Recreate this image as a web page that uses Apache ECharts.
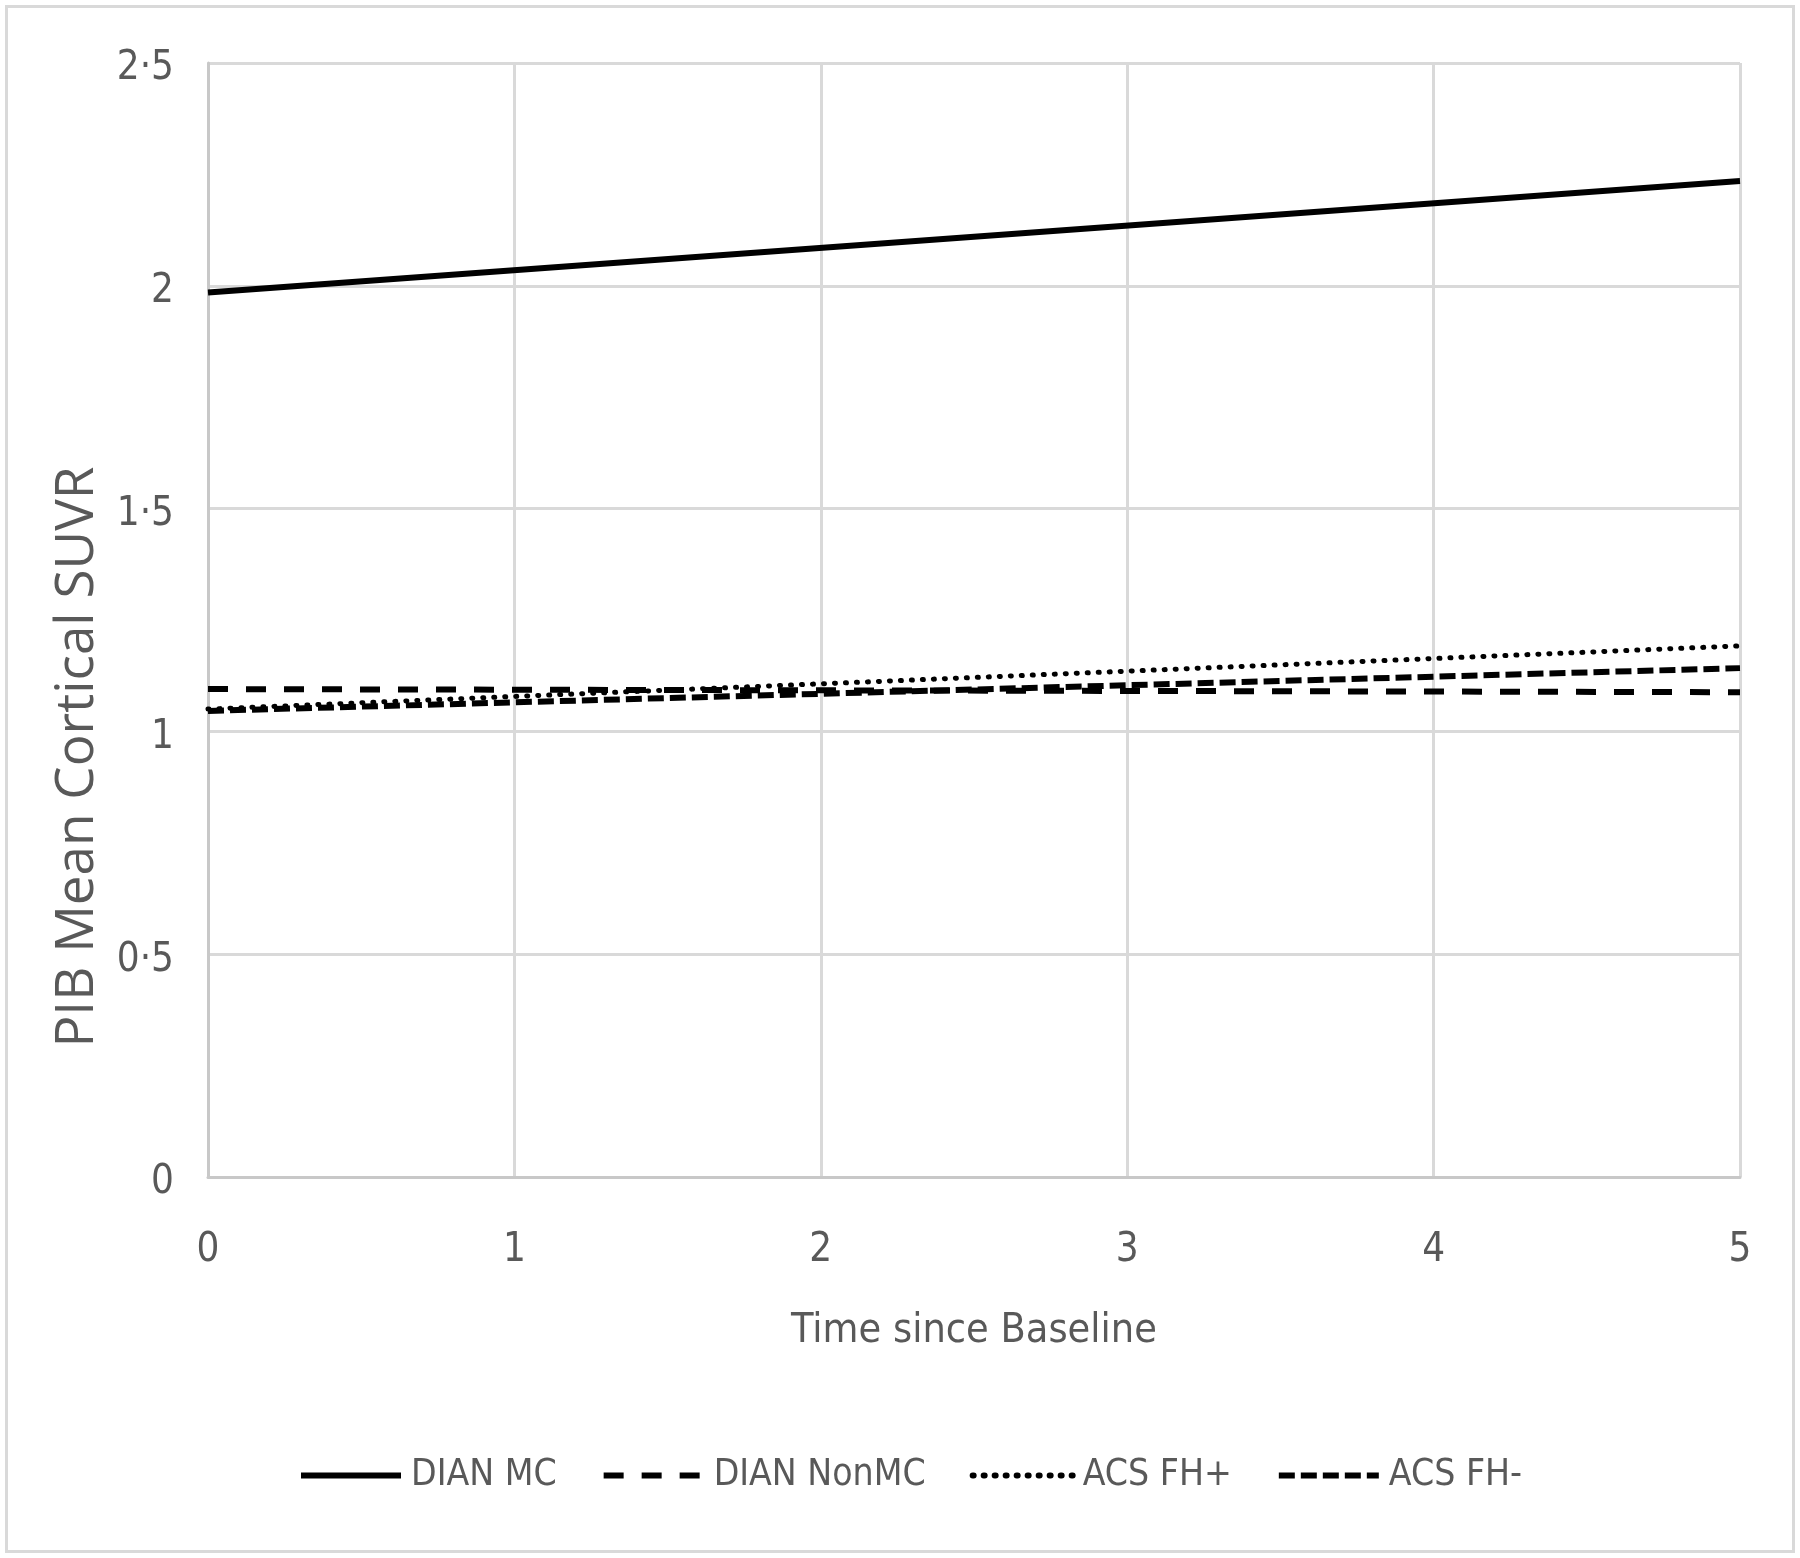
<!DOCTYPE html>
<html>
<head>
<meta charset="utf-8">
<style>
html,body{margin:0;padding:0;background:#fff;}
#c{width:1800px;height:1558px;}
</style>
<script src="https://cdn.jsdelivr.net/npm/echarts@6/dist/echarts.min.js"></script>
</head>
<body>
<div id="c"></div>
<script>
const xValues = [0, 5];
const dianMC = [1.985, 2.235];
const dianNonMC = [1.095, 1.088];
const acsFHplus = [1.05, 1.192];
const acsFHminus = [1.046, 1.142];
const seriesNames = ['DIAN MC', 'DIAN NonMC', 'ACS FH+', 'ACS FH-'];
const xTitle = 'Time since Baseline';
const yTitle = 'PIB Mean Cortical SUVR';

const narrow = '"Liberation Sans Narrow", "DejaVu Sans Condensed", sans-serif';
const pts = arr => arr.map((v, i) => [xValues[i], v]);

const chart = echarts.init(document.getElementById('c'), null, {renderer: 'canvas'});
const styles = [
  {type: 'solid', width: 6, cap: 'butt'},
  {type: [20, 18], width: 6, cap: 'butt'},
  {type: [1, 10], width: 5, cap: 'round'},
  {type: [16, 6], width: 6, cap: 'butt'}
];
const data = [dianMC, dianNonMC, acsFHplus, acsFHminus];

chart.setOption({
  animation: false,
  backgroundColor: '#fff',
  grid: {left: 208, right: 60, top: 63, bottom: 381, containLabel: false},
  xAxis: {
    type: 'value', min: 0, max: 5, interval: 1,
    name: xTitle, nameLocation: 'middle', nameGap: 134,
    nameTextStyle: {fontFamily: narrow, fontSize: 41, color: '#595959'},
    axisLine: {show: true, lineStyle: {color: '#c8c8c8', width: 3}},
    axisTick: {show: false},
    axisLabel: {fontFamily: narrow, fontSize: 40, color: '#595959', margin: 54},
    splitLine: {show: true, lineStyle: {color: '#d9d9d9', width: 3}}
  },
  yAxis: {
    type: 'value', min: 0, max: 2.5, interval: 0.5,
    axisLine: {show: true, lineStyle: {color: '#c8c8c8', width: 3}},
    axisTick: {show: false},
    axisLabel: {color: '#595959', margin: 34,
      formatter: v => '{a|' + String(v).replace('.', '·') + '}',
      rich: {a: {fontFamily: narrow, fontSize: 40, color: '#595959', padding: [12, 0, 0, 0]}}},
    splitLine: {show: true, lineStyle: {color: '#d9d9d9', width: 3}}
  },
  legend: {
    left: 293, top: 1452, itemWidth: 100, itemHeight: 14, itemGap: 44,
    itemStyle: {opacity: 0},
    lineStyle: {width: 6},
    textStyle: {fontFamily: narrow, fontSize: 37, color: '#595959', padding: [0, 0, 0, 5]},
    data: seriesNames
  },
  graphic: [
    {type: 'rect', shape: {x: 6.5, y: 6.5, width: 1787, height: 1545}, silent: true, z: -10,
      style: {fill: 'none', stroke: '#d9d9d9', lineWidth: 3}},
    {type: 'text', x: 78, y: 757, rotation: Math.PI / 2, silent: true,
      style: {text: yTitle, fontFamily: '"Open Sans", sans-serif', fontSize: 53, fill: '#595959',
        align: 'center', verticalAlign: 'middle'}}
  ],
  series: data.map((d, i) => ({
    name: seriesNames[i], type: 'line', data: pts(d), symbol: 'none',
    lineStyle: Object.assign({color: '#000'}, styles[i]),
    itemStyle: {color: '#000'}
  }))
});
</script>
</body>
</html>
